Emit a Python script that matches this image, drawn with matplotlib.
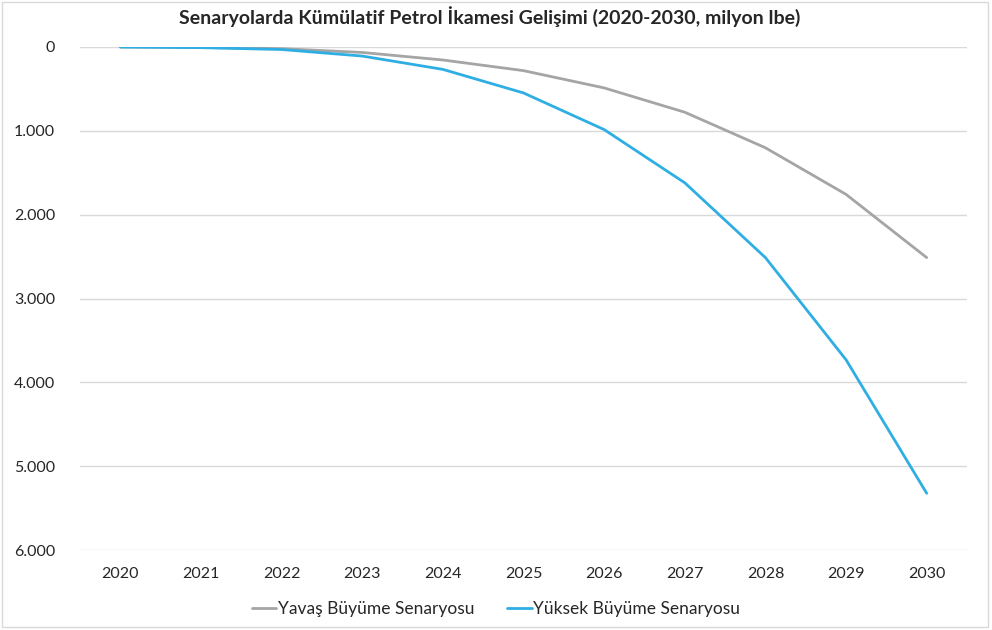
import matplotlib
matplotlib.use("Agg")
import matplotlib.pyplot as plt
from matplotlib.ticker import FuncFormatter, FixedLocator
from matplotlib.patches import Rectangle

years = ["2020", "2021", "2022", "2023", "2024", "2025", "2026", "2027", "2028", "2029", "2030"]
yavas = [0, 5, 20, 65, 155, 282, 488, 778, 1202, 1758, 2512]
yuksek = [0, 8, 30, 108, 267, 548, 985, 1620, 2512, 3731, 5323]
series_names = ["Yavaş Büyüme Senaryosu", "Yüksek Büyüme Senaryosu"]
y_ticks = [0, 1000, 2000, 3000, 4000, 5000, 6000]
title = "Senaryolarda Kümülatif Petrol İkamesi Gelişimi (2020-2030, milyon lbe)"

plt.rcParams['font.family'] = ['Lato', 'DejaVu Sans']

fig = plt.figure(figsize=(9.92, 6.30), dpi=100)
fig.patch.set_facecolor("white")
fig.patches.append(Rectangle((0.002, 0.004), 0.994, 0.993, transform=fig.transFigure,
                             fill=False, edgecolor="#D9D9D9", linewidth=1.0))

ax = fig.add_axes([80/992, 1-550/630, (967-80)/992, (550-47)/630])
x = list(range(len(years)))
l1, = ax.plot(x, yavas, color="#A5A5A5", linewidth=2.0, label=series_names[0], solid_capstyle="round")
l2, = ax.plot(x, yuksek, color="#2FAEE3", linewidth=2.0, label=series_names[1], solid_capstyle="round")

ax.set_xlim(-0.5, len(years) - 0.5)
ax.set_ylim(6000, 0)
ax.yaxis.set_major_locator(FixedLocator(y_ticks))
ax.yaxis.set_major_formatter(FuncFormatter(lambda v, p: f"{int(v):,}".replace(",", ".")))
ax.set_xticks(x)
ax.set_xticklabels(years)
ax.grid(axis="y", color="#D9D9D9", linewidth=1.0)
ax.set_axisbelow(True)
for s in ax.spines.values():
    s.set_visible(False)
ax.tick_params(axis="both", length=0, labelsize=11.5, colors="#262626")
ax.tick_params(axis="y", pad=18)
ax.tick_params(axis="x", pad=12)

fig.text(0.494, 1-17/630, title, ha="center", va="center", fontsize=14,
         fontweight="bold", color="#262626")

fig.legend(handles=[l1, l2], loc="center", bbox_to_anchor=(0.5, 1-609/630), ncol=2,
           frameon=False, fontsize=12.5, handlelength=1.4, handletextpad=0.1,
           columnspacing=1.9, labelcolor="#262626")

fig.savefig("out.png", dpi=100)
